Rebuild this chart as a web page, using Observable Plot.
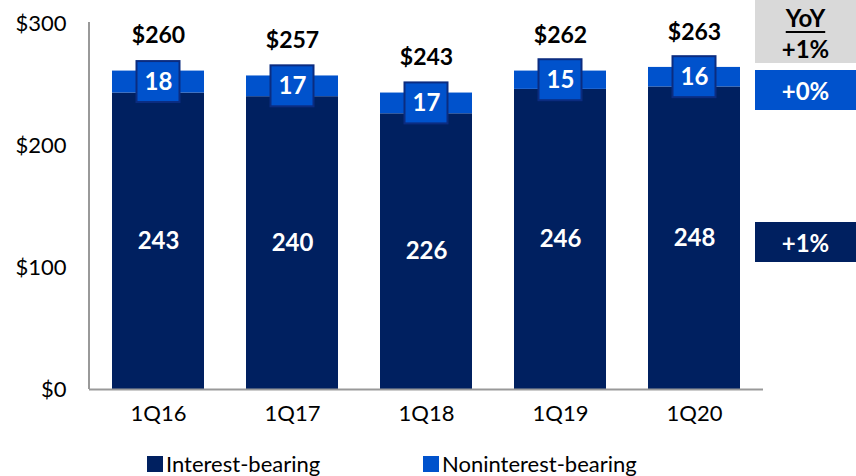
<!DOCTYPE html>
<html><head><meta charset="utf-8">
<script src="https://cdn.jsdelivr.net/npm/d3@7"></script>
<script src="https://cdn.jsdelivr.net/npm/@observablehq/plot@0.6"></script>
<style>
body{margin:0;background:#fff;font-family:Lato,"Open Sans",sans-serif;}
#wrap{position:relative;width:856px;height:476px;}
.yoy{position:absolute;left:755px;width:101px;display:flex;align-items:center;justify-content:center;font-weight:bold;font-size:24px;}
.legend{position:absolute;top:452px;left:0;width:856px;font-size:22px;color:#000;}
.legend span{position:absolute;display:flex;align-items:center;white-space:nowrap;line-height:24px;}
.legend i{display:inline-block;width:16px;height:16px;margin-right:3px;}
</style></head>
<body><div id="wrap"></div>
<script>
const quarters = ["1Q16","1Q17","1Q18","1Q19","1Q20"];
const interest = [243,240,226,246,248];
const noninterest = [18,17,17,15,16];
const totals = [260,257,243,262,263];
const yTicks = [0,100,200,300];
const yoyTotal = "+1%", yoyNon = "+0%", yoyInt = "+1%";
const navy = "#002060", blue = "#0052cc", boxBorder = "#0b2c80", axisGray = "#999999";

const rows = quarters.flatMap((q,i)=>[
  {q, type:"Interest-bearing", v:interest[i]},
  {q, type:"Noninterest-bearing", v:noninterest[i]}
]);
const boxes = quarters.map((q,i)=>{const mid = interest[i] + noninterest[i]/2; return {q, mid, lo:mid-16.8, hi:mid+16.8, v:noninterest[i]};});
const tot = quarters.map((q,i)=>({q, t:totals[i], top: interest[i]+noninterest[i]}));
const ints = quarters.map((q,i)=>({q, v:interest[i]}));

const chart = Plot.plot({
  width:856, height:440,
  marginLeft:89, marginRight:93, marginTop:23, marginBottom:51,
  style:{fontFamily:"Lato, 'Open Sans', sans-serif", fontSize:"22px", color:"#000", background:"#fff"},
  x:{domain:quarters, paddingInner:0.31, paddingOuter:0.155, label:null, tickSize:0, tickPadding:16},
  y:{domain:[0,300], ticks:yTicks, tickFormat:d=>"$"+d, label:null, tickSize:0, tickPadding:23},
  color:{domain:["Interest-bearing","Noninterest-bearing"], range:[navy, blue]},
  marks:[
    Plot.barY(rows, {x:"q", y:"v", fill:"type", order:["Interest-bearing","Noninterest-bearing"]}),
    Plot.ruleY([0], {stroke:axisGray, strokeWidth:2}),
    Plot.rectY(boxes, {x:"q", y1:"lo", y2:"hi", fill:blue, stroke:boxBorder, strokeWidth:2, insetLeft:24.5, insetRight:24.5}),
    Plot.text(boxes, {x:"q", y:"mid", text:d=>String(d.v), fill:"#fff", fontWeight:"bold", fontSize:24}),
    Plot.text(ints, {x:"q", y:d=>d.v/2, text:d=>String(d.v), fill:"#fff", fontWeight:"bold", fontSize:24}),
    Plot.text(tot, {x:"q", y:"top", dy:-35, text:d=>"$"+d.t, fill:"#000", fontWeight:"bold", fontSize:23})
  ]
});
// left value-axis line, placed from the chart's own scales
try {
  const ys = chart.scale("y"), xs = chart.scale("x");
  d3.select(chart).append("line")
    .attr("x1", xs.range[0]).attr("x2", xs.range[0])
    .attr("y1", Math.min(ys.range[0], ys.range[1]) - 1).attr("y2", Math.max(ys.range[0], ys.range[1]))
    .attr("stroke", axisGray).attr("stroke-width", 2);
} catch (e) { console.error(e); }

const wrap = document.getElementById("wrap");
chart.style.position="absolute"; chart.style.left="0"; chart.style.top="0";
wrap.appendChild(chart);

function box(top,h,bg,color,html){const d=document.createElement("div");d.className="yoy";d.style.top=top+"px";d.style.height=h+"px";d.style.background=bg;d.style.color=color;d.innerHTML=html;wrap.appendChild(d);return d;}
box(0,63,"#d9d9d9","#000",`<div style="text-align:center;line-height:31px;margin-top:2px"><span style="text-decoration:underline;text-decoration-thickness:2px;text-underline-offset:4px">YoY</span><br>${yoyTotal}</div>`);
box(70,40,blue,"#fff",yoyNon);
box(222,40,navy,"#fff",yoyInt);

const lg=document.createElement("div");lg.className="legend";
lg.innerHTML=`<span style="left:147px"><i style="background:${navy}"></i>Interest-bearing</span><span style="left:423px"><i style="background:${blue}"></i>Noninterest-bearing</span>`;
wrap.appendChild(lg);
</script></body></html>
